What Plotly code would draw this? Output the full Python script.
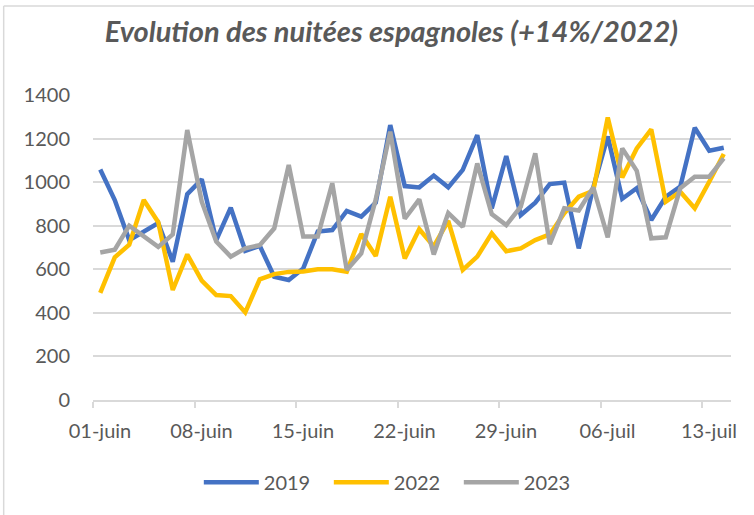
import plotly.graph_objects as go

tick_labels = ["01-juin", "08-juin", "15-juin", "22-juin", "29-juin", "06-juil", "13-juil"]

v2019 = [1058, 918, 734, 775, 812, 635, 945, 1013, 734, 883, 685, 708, 566, 551, 604,
         773, 780, 868, 842, 906, 1262, 982, 976, 1030, 976, 1056, 1216, 880, 1120,
         849, 906, 991, 998, 696, 975, 1210, 924, 972, 826, 933, 979, 1250, 1144, 1158]
v2022 = [492, 655, 713, 918, 816, 505, 668, 548, 482, 477, 402, 554, 578, 588, 590,
         600, 600, 589, 762, 661, 933, 649, 784, 705, 822, 597, 658, 765, 683,
         696, 734, 760, 857, 933, 960, 1297, 1021, 1155, 1242, 910, 956, 880, 1002, 1129]
v2023 = [677, 690, 800, 750, 703, 760, 1239, 910, 727, 658, 696, 711, 788, 1079, 750,
         750, 995, 597, 673, 921, 1232, 832, 921, 668, 858, 795, 1086, 853, 803,
         887, 1132, 715, 880, 870, 976, 746, 1155, 1052, 742, 747, 972, 1025, 1025, 1109]

series = [("2019", v2019, "#4472C4"), ("2022", v2022, "#FFC000"), ("2023", v2023, "#A5A5A5")]

days = list(range(len(v2019)))

fig = go.Figure()
for name, vals, col in series:
    fig.add_trace(go.Scatter(x=days, y=vals, name=name, mode="lines",
                             line=dict(color=col, width=4.5)))

FONT = "Lato"
TXT = "#595959"
GRID = "#D9D9D9"

fig.update_layout(
    width=754, height=515,
    margin=dict(l=93, r=23, t=95, b=115),
    paper_bgcolor="white", plot_bgcolor="white",
    font=dict(family=FONT, color=TXT, size=20),
    title=dict(text="Evolution des nuitées espagnoles (+14%/2022)",
               x=0.519, xref="container", xanchor="center",
               y=1 - 32 / 515, yref="container", yanchor="middle",
               font=dict(family=FONT, size=29, color=TXT, weight="bold", style="italic")),
    showlegend=True,
    legend=dict(orientation="h", x=0.4715, xanchor="center", y=-0.27, yanchor="middle",
                font=dict(family=FONT, size=20, color=TXT), itemwidth=55,
                entrywidth=60, entrywidthmode="pixels",
                bgcolor="rgba(0,0,0,0)"),
    xaxis=dict(range=[-0.5, len(days) - 0.5],
               tickmode="array",
               tickvals=[i * 7 - 0.5 for i in range(len(tick_labels))],
               ticktext=tick_labels,
               ticks="outside", ticklen=6, tickcolor=GRID, tickwidth=1.5,
               ticklabelshift=7, ticklabelstandoff=6,
               showgrid=False, zeroline=False,
               showline=True, linecolor=GRID, linewidth=1.5,
               tickfont=dict(family=FONT, size=20, color=TXT)),
    yaxis=dict(range=[0, 1400], tickmode="linear", tick0=0, dtick=200,
               showgrid=True, gridcolor=GRID, gridwidth=1.5,
               zeroline=False, showline=False, ticks="",
               ticklabelstandoff=22,
               tickfont=dict(family=FONT, size=20, color=TXT)),
)

# chart-area frame (visible on the left and top edges)
fig.add_shape(type="line", xref="paper", yref="paper",
              x0=-0.140, x1=-0.140, y0=-0.5, y1=1.292,
              line=dict(color=GRID, width=1.5))
fig.add_shape(type="line", xref="paper", yref="paper",
              x0=-0.140, x1=1.1, y0=1.292, y1=1.292,
              line=dict(color=GRID, width=1.5))

fig.write_html("out.html", config={"displayModeBar": False},
               post_script="document.body.style.margin='0px';")
